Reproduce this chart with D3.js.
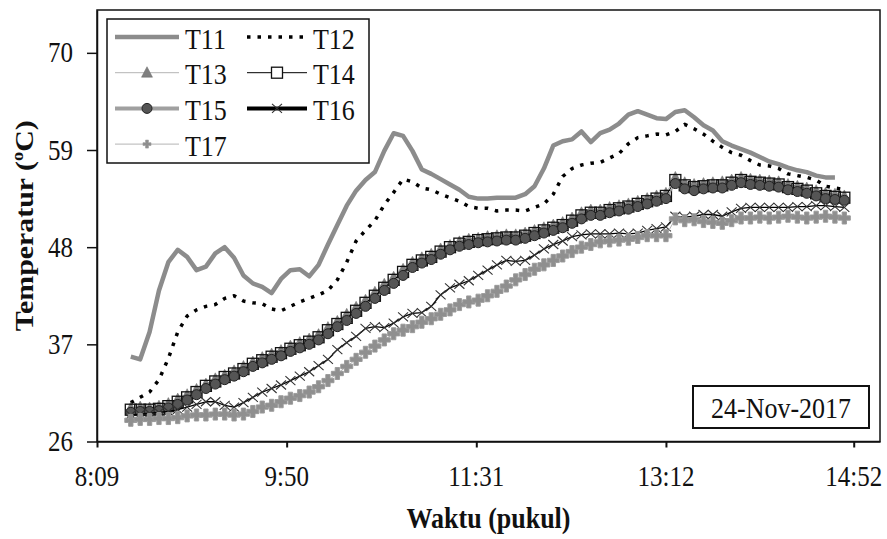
<!DOCTYPE html>
<html>
<head>
<meta charset="utf-8">
<script src="https://cdn.jsdelivr.net/npm/d3@7"></script>
<style>
  body { margin: 0; background: #fff; }
  svg text { font-family: "Liberation Serif", "DejaVu Serif", "Times New Roman", Times, serif; fill: #111; }
</style>
</head>
<body>
<div id="chart"></div>
<script>
// sampling times (pukul), every 5 minutes
var times = ["8:27","8:32","8:37","8:42","8:47","8:52","8:57","9:02","9:07","9:12",
  "9:17","9:22","9:27","9:32","9:37","9:42","9:47","9:52","9:57","10:02",
  "10:07","10:12","10:17","10:22","10:27","10:32","10:37","10:42","10:47","10:52",
  "10:57","11:02","11:07","11:12","11:17","11:22","11:27","11:32","11:37","11:42",
  "11:47","11:52","11:57","12:02","12:07","12:12","12:17","12:22","12:27","12:32",
  "12:37","12:42","12:47","12:52","12:57","13:02","13:07","13:12","13:17","13:22",
  "13:27","13:32","13:37","13:42","13:47","13:52","13:57","14:02","14:07","14:12",
  "14:17","14:22","14:27","14:32","14:37","14:42","14:47"];

var T11 = [35.6,35.3,38.4,43.1,46.3,47.7,46.9,45.4,45.8,47.3, 48.0,46.8,44.8,43.9,43.5,42.8,44.4,45.4,45.5,44.7,
  46.0,48.3,50.5,52.7,54.4,55.6,56.5,58.9,60.9,60.6, 58.9,56.8,56.3,55.7,55.1,54.5,53.7,53.5,53.5,53.6,
  53.6,53.6,54.0,54.9,56.9,59.5,60.0,60.2,61.1,59.9, 60.9,61.3,62.0,63.0,63.4,63.0,62.6,62.5,63.3,63.5,
  62.7,61.8,61.2,60.0,59.5,59.1,58.7,58.2,57.7,57.4, 57.0,56.7,56.5,56.1,55.9,55.9];
var T12 = [30.4,31.0,31.6,33.0,35.4,38.4,40.2,40.9,41.3,41.5, 42.2,42.5,41.9,41.7,41.6,41.0,40.8,41.3,41.8,42.2,
  42.6,43.1,44.3,46.3,48.7,49.9,51.0,52.8,54.2,55.7, 55.4,54.7,54.5,54.0,53.6,53.2,52.6,52.4,52.4,52.1,
  52.2,52.2,52.1,52.5,52.9,54.0,56.0,56.9,57.3,57.5, 57.6,58.1,58.6,59.7,60.4,60.6,60.8,60.7,61.1,61.9,
  61.4,60.8,60.0,59.3,58.7,58.4,57.8,57.3,57.2,56.9, 56.3,56.1,55.9,55.6,54.9,54.7,54.5];
var T13 = [29.8,29.9,29.8,30.0,30.3,30.8,31.3,31.9,32.5,33.1, 33.5,34.0,34.5,35.0,35.5,35.9,36.3,36.8,37.2,37.6,
  38.1,38.9,39.6,40.4,41.2,42.0,42.9,43.8,44.6,45.5, 46.3,46.8,47.2,47.8,48.2,48.6,48.9,49.0,49.2,49.3,
  49.4,49.4,49.6,49.9,50.2,50.5,50.8,51.3,51.9,52.2, 52.2,52.5,52.7,52.9,53.2,53.5,53.8,54.1,55.9,55.3,
  55.1,55.2,55.3,55.4,55.6,55.9,55.7,55.6,55.5,55.4, 55.1,54.9,54.7,54.4,54.1,54.0,53.8];
var T14 = [29.6,29.6,29.6,29.7,30.0,30.5,31.0,31.6,32.3,32.8, 33.3,33.7,34.2,34.8,35.2,35.6,36.0,36.5,36.9,37.3,
  37.8,38.6,39.3,40.0,40.8,41.7,42.5,43.4,44.3,45.2, 46.0,46.5,46.9,47.5,48.0,48.4,48.6,48.8,48.9,49.0,
  49.1,49.1,49.3,49.6,49.9,50.2,50.5,51.0,51.6,51.9, 51.9,52.2,52.4,52.6,52.9,53.2,53.5,53.8,55.6,55.0,
  54.8,54.9,55.0,55.0,55.3,55.6,55.4,55.3,55.2,55.1, 54.8,54.6,54.4,54.1,53.8,53.7,53.6];
var T15 = [29.3,29.4,29.4,29.5,29.8,30.2,30.7,31.3,32.0,32.5, 33.0,33.4,33.9,34.5,34.9,35.3,35.7,36.2,36.6,37.0,
  37.5,38.2,39.0,39.7,40.5,41.3,42.2,43.1,43.9,44.8, 45.7,46.2,46.6,47.2,47.7,48.1,48.3,48.5,48.6,48.7,
  48.8,48.8,49.0,49.3,49.6,49.9,50.2,50.7,51.2,51.6, 51.6,51.9,52.1,52.3,52.6,52.9,53.2,53.5,55.2,54.6,
  54.4,54.6,54.7,54.7,55.0,55.3,55.1,55.0,54.9,54.8, 54.5,54.3,54.1,53.8,53.5,53.4,53.3];
var T16 = [29.0,29.1,29.2,29.3,29.4,29.6,29.9,30.2,30.5,30.5, 30.1,29.9,30.4,31.0,31.6,32.0,32.4,32.9,33.4,33.9,
  34.6,35.3,36.4,37.2,37.9,38.8,39.0,38.9,39.4,40.1, 40.5,40.6,41.3,42.6,43.4,43.8,44.2,44.8,45.4,46.0,
  46.5,46.4,46.5,47.1,47.8,48.3,48.7,49.2,49.4,49.5, 49.5,49.5,49.6,49.5,49.6,49.9,50.1,50.3,51.5,51.4,
  51.5,51.7,51.7,51.5,52.0,52.4,52.5,52.5,52.5,52.5, 52.5,52.6,52.6,52.7,52.7,52.6,52.5];
var T17 = [28.4,28.5,28.5,28.6,28.6,28.7,28.9,29.0,29.0,29.1, 29.1,29.0,29.1,29.4,29.9,30.1,30.5,30.9,31.2,31.6,
  32.2,32.9,33.7,34.5,35.3,36.1,36.8,37.5,38.2,38.6, 39.0,39.5,39.9,40.4,40.9,41.5,41.8,42.0,42.5,43.0,
  43.6,44.3,44.9,45.5,46.0,46.5,47.0,47.5,48.0,48.3, 48.6,48.7,48.8,48.9,49.1,49.3,49.3,49.3,51.2,51.0,
  51.1,50.9,50.8,50.7,51.0,51.3,51.3,51.4,51.3,51.4, 51.5,51.4,51.3,51.4,51.5,51.4,51.3];

var seriesNames = ["T11", "T12", "T13", "T14", "T15", "T16", "T17"];
var seriesValues = [T11, T12, T13, T14, T15, T16, T17];

var xTickLabels = ["8:09", "9:50", "11:31", "13:12", "14:52"];
var yTicks = [26, 37, 48, 59, 70];
var dateLabel = "24-Nov-2017";

function toMinutes(s) {
  var p = s.split(":");
  return +p[0] * 60 + +p[1];
}

var W = 887, H = 539;
var margin = { left: 97, top: 10, right: 7, bottom: 97.5 };
var stretch = 1.15; // the source picture is a little taller than wide
var serif = '"Liberation Serif", "DejaVu Serif", "Times New Roman", Times, serif';

var svg = d3.select("#chart").append("svg")
  .attr("width", W).attr("height", H)
  .attr("font-family", serif);

var x = d3.scaleLinear()
  .domain([toMinutes("8:09"), 906])
  .range([margin.left, W - margin.right]);
var y = d3.scaleLinear()
  .domain([26, 74.85])
  .range([H - margin.bottom, margin.top]);

// styles for each series
var styles = {
  T11: { stroke: "#8c8c8c", width: 4.5, marker: null },
  T12: { stroke: "#000", width: 3.5, dash: "3.5,7", marker: null },
  T13: { stroke: "#b4b4b4", width: 1, marker: "triangle" },
  T14: { stroke: "#000", width: 1, marker: "square" },
  T15: { stroke: "#a0a0a0", width: 1.5, marker: "circle" },
  T16: { stroke: "#000", width: 1.3, marker: "x" },
  T17: { stroke: "#b4b4b4", width: 1, marker: "plus" }
};

function drawMarker(g, type, cx, cy, legend) {
  if (type === "triangle") {
    g.append("path").attr("d", "M0,-6L5.5,4.5L-5.5,4.5Z")
      .attr("transform", "translate(" + cx + "," + cy + ")")
      .attr("fill", "#7f7f7f").attr("stroke", "#6a6a6a").attr("stroke-width", 0.5);
  } else if (type === "square") {
    g.append("rect").attr("x", cx - 5.5).attr("y", cy - 5.5).attr("width", 11).attr("height", 11)
      .attr("fill", legend ? "#fff" : "none").attr("stroke", "#111").attr("stroke-width", 1.3);
  } else if (type === "circle") {
    g.append("circle").attr("cx", cx).attr("cy", cy).attr("r", 5)
      .attr("fill", "#555").attr("stroke", "#222").attr("stroke-width", 1);
  } else if (type === "x") {
    g.append("path").attr("d", "M-5,-4.5L5,4.5M-5,4.5L5,-4.5")
      .attr("transform", "translate(" + cx + "," + cy + ")")
      .attr("stroke", "#333").attr("stroke-width", 1.1).attr("fill", "none");
  } else if (type === "plus") {
    var s = legend ? 0.8 : 1.2;
    g.append("path").attr("d", "M-1.8,-5H1.8V-1.8H5V1.8H1.8V5H-1.8V1.8H-5V-1.8H-1.8Z")
      .attr("transform", "translate(" + cx + "," + cy + ") scale(" + s + ")")
      .attr("fill", "#8f8f8f").attr("stroke", "#9a9a9a").attr("stroke-width", 0.8);
  }
}

function sText(parent, tx, ty, str, size, anchor, weight) {
  return parent.append("text")
    .attr("transform", "translate(" + tx + "," + ty + ") scale(1," + stretch + ")")
    .attr("text-anchor", anchor || "start")
    .attr("font-family", serif)
    .attr("font-size", size)
    .attr("font-weight", weight || "normal")
    .text(str);
}

// plot frame
svg.append("rect")
  .attr("x", margin.left).attr("y", margin.top)
  .attr("width", W - margin.right - margin.left)
  .attr("height", H - margin.bottom - margin.top)
  .attr("fill", "none").attr("stroke", "#111").attr("stroke-width", 1.5);

// series
var line = d3.line()
  .x(function(d) { return x(d.t); })
  .y(function(d) { return y(d.v); });

seriesNames.forEach(function(name, k) {
  var st = styles[name];
  var pts = seriesValues[k].map(function(v, i) { return { t: toMinutes(times[i]), v: v }; });
  var g = svg.append("g").attr("class", "series " + name);
  g.append("path").datum(pts)
    .attr("d", line)
    .attr("fill", "none")
    .attr("stroke", st.stroke)
    .attr("stroke-width", st.width)
    .attr("stroke-dasharray", st.dash || null)
    .attr("stroke-linejoin", "round");
  if (st.marker) {
    pts.forEach(function(p) { drawMarker(g, st.marker, x(p.t), y(p.v), false); });
  }
});

// axes
var xAxis = d3.axisBottom(x)
  .tickValues(xTickLabels.map(toMinutes))
  .tickFormat("")
  .tickSizeInner(6).tickSizeOuter(0);
var gx = svg.append("g")
  .attr("transform", "translate(0," + (H - margin.bottom) + ")")
  .call(xAxis);
gx.selectAll(".tick line").attr("stroke", "#111").attr("stroke-width", 2);
gx.select(".domain").attr("stroke", "#111").attr("stroke-width", 1.5);
xTickLabels.forEach(function(lbl) {
  sText(svg, x(toMinutes(lbl)), 486, lbl, 25, "middle");
});

var yAxis = d3.axisLeft(y)
  .tickValues(yTicks)
  .tickFormat("")
  .tickSizeInner(10).tickSizeOuter(0);
var gy = svg.append("g")
  .attr("transform", "translate(" + margin.left + ",0)")
  .call(yAxis);
gy.selectAll(".tick line").attr("stroke", "#111").attr("stroke-width", 1.5);
gy.select(".domain").attr("stroke", "#111").attr("stroke-width", 1.5);
yTicks.forEach(function(v) {
  sText(svg, 73, y(v) + 9.5, v, 25, "end");
});

// axis titles
sText(svg, (margin.left + W - margin.right) / 2, 528, "Waktu (pukul)", 26, "middle", "bold");
var yt = svg.append("text")
  .attr("transform", "translate(33," + ((margin.top + H - margin.bottom) / 2) + ") rotate(-90) scale(" + stretch + ",1)")
  .attr("text-anchor", "middle")
  .attr("font-family", serif)
  .attr("font-size", 26)
  .attr("font-weight", "bold");
yt.append("tspan").text("Temperatur (");
yt.append("tspan").attr("font-size", 16).attr("dy", -10).text("o");
yt.append("tspan").attr("dy", 10).text("C)");

// legend
var legend = svg.append("g");
legend.append("rect")
  .attr("x", 107).attr("y", 19).attr("width", 262).attr("height", 144)
  .attr("fill", "#fff").attr("stroke", "#111").attr("stroke-width", 1.5);
seriesNames.forEach(function(name, k) {
  var st = styles[name];
  var col = k % 2, row = Math.floor(k / 2);
  var x0 = col === 0 ? 115 : 247;
  var x1 = col === 0 ? 179 : 307;
  var cy = 37 + row * 35.7;
  var legW = st.width;
  if (name === "T15") legW = 4;
  if (name === "T16") legW = 4;
  legend.append("line")
    .attr("x1", x0).attr("x2", x1).attr("y1", cy).attr("y2", cy)
    .attr("stroke", st.stroke).attr("stroke-width", legW)
    .attr("stroke-dasharray", st.dash || null);
  if (st.marker) drawMarker(legend, st.marker, (x0 + x1) / 2, cy, true);
  sText(legend, x1 + 6, cy + 11.5, name, 26, "start");
});

// date box
svg.append("rect")
  .attr("x", 693).attr("y", 386).attr("width", 176).attr("height", 42)
  .attr("fill", "#fff").attr("stroke", "#111").attr("stroke-width", 2);
sText(svg, 781, 418, dateLabel, 26, "middle");
</script>
</body>
</html>
